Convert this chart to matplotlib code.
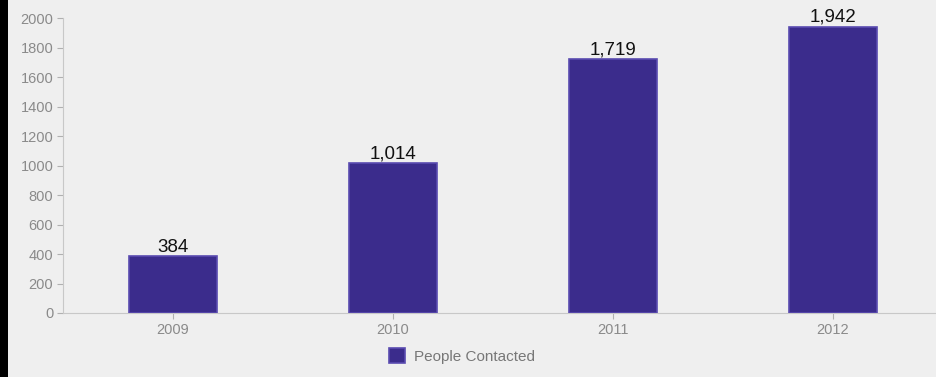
import matplotlib
matplotlib.use("Agg")
import matplotlib.pyplot as plt
from matplotlib.patches import Rectangle

years = ["2009", "2010", "2011", "2012"]
people_contacted = [384, 1014, 1719, 1942]
y_ticks = [0, 200, 400, 600, 800, 1000, 1200, 1400, 1600, 1800, 2000]

bar_color = "#3b2c8c"
bg_color = "#efefef"
tick_color = "#8a8a8a"

plt.rcParams["font.family"] = ["Liberation Sans", "DejaVu Sans"]

W, H = 937, 377
fig = plt.figure(figsize=(W / 100, H / 100), dpi=100, facecolor=bg_color)
ax = fig.add_axes([63 / W, 1 - 313 / H, 880 / W, 295 / H])
ax.set_facecolor(bg_color)

x = list(range(len(years)))
bars = ax.bar(x, people_contacted, width=0.4, color=bar_color,
              edgecolor="#5a4bb0", linewidth=1.2, zorder=3)

for xi, v in zip(x, people_contacted):
    ax.text(xi, v + 4, f"{v:,}", ha="center", va="bottom",
            fontsize=13.5, color="#111111", clip_on=False, zorder=4)

ax.set_xlim(-0.5, len(years) - 0.5)
ax.set_ylim(0, 2000)
ax.set_xticks(x)
ax.set_xticklabels(years)
ax.set_yticks(y_ticks)
ax.set_yticklabels([str(t) for t in y_ticks])
ax.tick_params(axis="both", colors="#b0b0b0", labelcolor=tick_color,
               labelsize=10.5, length=4, width=0.8, direction="out", pad=3)

for side in ("top", "right"):
    ax.spines[side].set_visible(False)
for side in ("left", "bottom"):
    ax.spines[side].set_color("#c8c8c8")
    ax.spines[side].set_linewidth(0.8)

# legend below the x axis
leg = fig.legend([bars], ["People Contacted"], loc="center",
                 bbox_to_anchor=(462 / W, 1 - 356 / H),
                 bbox_transform=fig.transFigure,
                 frameon=False, fontsize=11, labelcolor="#777777",
                 handlelength=1.1, handleheight=1.1, handletextpad=0.6)

# dark strip along the left edge
fig.patches.append(Rectangle((0, 0), 8 / W, 1, transform=fig.transFigure,
                             facecolor="black", edgecolor="none", zorder=10))

fig.savefig("out.png", dpi=100, facecolor=bg_color)
